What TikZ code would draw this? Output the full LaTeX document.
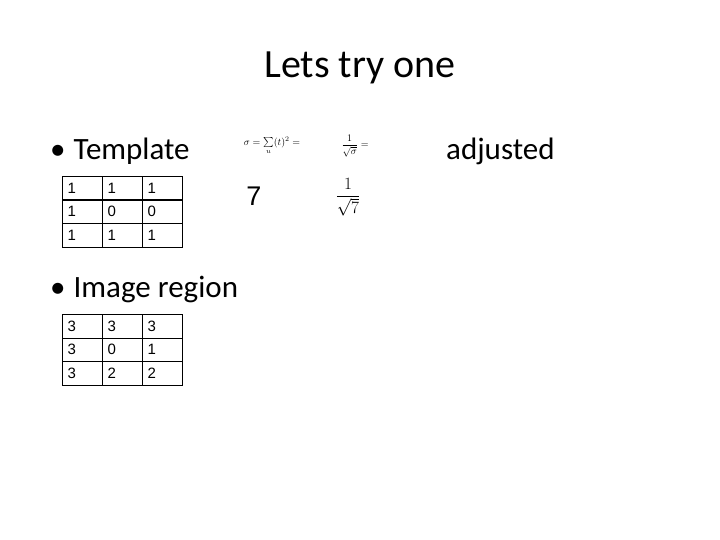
\documentclass[tikz,border=0pt]{standalone}
\usepackage{fontspec}
\setmainfont{Carlito}
\newfontfamily\arial{Liberation Sans}
\newfontfamily\tnr{Liberation Serif}
\begin{document}
\begin{tikzpicture}[x=1pt,y=-1pt,
  cell/.style={draw,line width=1.1pt,minimum width=40pt,minimum height=23.5pt,inner sep=0pt,font=\arial\fontsize{15}{15}\selectfont,anchor=north west,text width=30pt,align=left},
  big/.style={font=\fontsize{31}{33}\selectfont,anchor=west,inner sep=0pt}]
\useasboundingbox (0,0) rectangle (720,540);
\node[font=\fontsize{40}{44}\selectfont,inner sep=0pt] (title) at (360,68) {Lets try one};
\node[big] (b1) at (50,151) {•\hspace{8pt}Template};
\node[big] (b2) at (50,289) {•\hspace{8pt}Image region};
\node[big] (adj) at (446,151) {adjusted};
\foreach \r/\vals [count=\i from 0] in {0/{1,1,1},1/{1,0,0},2/{1,1,1}}{
  \foreach \v [count=\j from 0] in \vals {
    \node[cell] (t\i\j) at (62+40*\j,176+23.5*\i) {\v};
  }
}
\foreach \r/\vals [count=\i from 0] in {0/{3,3,3},1/{3,0,1},2/{3,2,2}}{
  \foreach \v [count=\j from 0] in \vals {
    \node[cell] (m\i\j) at (62+40*\j,314+23.5*\i) {\v};
  }
}
\node[font=\tnr\fontsize{10}{10}\selectfont,inner sep=0pt] (f1) at (272,146) {$\sigma=\sum\limits_{u}(t)^2=$};
\node[font=\tnr\fontsize{10}{10}\selectfont,inner sep=0pt] (f2) at (355,146) {$\displaystyle\frac{1}{\sqrt{\sigma}}=$};
\node[font=\arial\fontsize{27}{27}\selectfont,inner sep=0pt] (seven) at (254,196) {7};
\node[font=\fontsize{16}{16}\selectfont,inner sep=0pt] (f3) at (348,197) {$\displaystyle\frac{1}{\sqrt{7}}$};
\end{tikzpicture}
\end{document}
